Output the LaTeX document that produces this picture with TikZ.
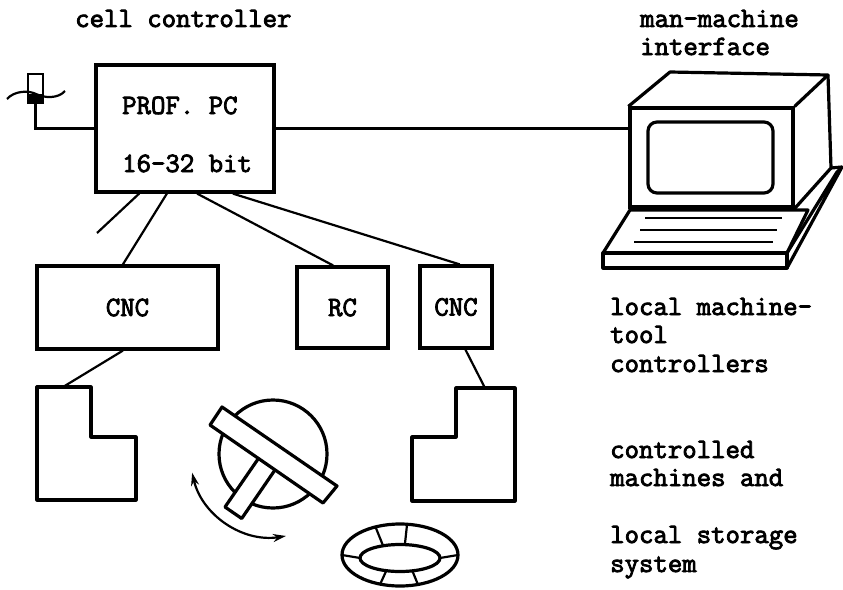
\documentclass[tikz,border=0pt]{standalone}
\usepackage{fontspec}
\usetikzlibrary{calc,arrows.meta}
\newfontfamily\typefont[FakeBold=3]{Latin Modern Mono}
\def\capfont{\typefont\fontsize{28}{28}\selectfont}
\tikzstyle{unit}=[draw, line width=3.2pt, inner sep=0pt, font=\capfont]
\tikzstyle{caption}=[inner sep=0pt, anchor=base west, font=\capfont]
\tikzstyle{link}=[line width=2.2pt]
\tikzstyle{outline}=[line width=3.2pt, line join=round]
\tikzset{turn/.tip={Stealth[length=13pt,width=8pt]}}

\begin{document}
\begin{tikzpicture}[x=1pt, y=-1pt]
  \useasboundingbox (0,0) rectangle (843,589);

  % cell controller with its sensor
  \node[caption] (cellcap) at (75,27) {cell controller};
  \node[unit, minimum width=178pt, minimum height=127pt] (pc) at (185,128.5) {};
  \node[caption] (pc1) at (122,114) {PROF. PC};
  \node[caption] (pc2) at (122,172) {16-32 bit};

  \node[draw, line width=2.2pt, minimum width=15pt, minimum height=29pt, inner sep=0pt] (sensor) at (35.5,88.5) {};
  \fill ($(sensor.south west)+(0,-10)$) rectangle (sensor.south east);
  \draw[link] (7,99) .. controls (14,91) and (28,90) .. (36,94)
              .. controls (44,98) and (58,99) .. (65,91);
  \draw[link] (pc.west) -| (sensor.south);

  % local controllers
  \node[unit, minimum width=181pt, minimum height=83pt] (cnc1) at (127.5,307.5) {CNC};
  \node[unit, minimum width=91pt, minimum height=81pt] (rc) at (342.5,307.5) {RC};
  \node[unit, minimum width=72pt, minimum height=82pt] (cnc2) at (456,307) {CNC};

  \coordinate (loose) at (97,233);
  \path[link] ($(pc.south west)!0.247!(pc.south east)$) edge (loose);
  \path[link] ($(pc.south west)!0.40!(pc.south east)$) edge ($(cnc1.north west)!0.475!(cnc1.north east)$);
  \path[link] ($(pc.south west)!0.567!(pc.south east)$) edge ($(rc.north west)!0.4!(rc.north east)$);
  \path[link] ($(pc.south west)!0.764!(pc.south east)$) edge ($(cnc2.north west)!0.55!(cnc2.north east)$);

  % machines
  \draw[outline] (37,387) -- (91,387) -- (91,437) -- (136,437) -- (136,500) -- (37,500) -- cycle;
  \coordinate (mill1) at (63,387);
  \draw[link] ($(cnc1.south west)!0.475!(cnc1.south east)$) -- (mill1);

  \draw[outline] (515,388) -- (456,388) -- (456,437) -- (412,437) -- (412,501) -- (515,501) -- cycle;
  \coordinate (mill2) at (485,388);
  \draw[link] ($(cnc2.south west)!0.625!(cnc2.south east)$) -- (mill2);

  % robot
  \draw[outline] (273,454) circle[radius=54];
  \filldraw[outline, fill=white] (258.6,458.2) -- (225,507) -- (241.7,518.5) -- (275.2,469.6) -- cycle;
  \filldraw[outline, fill=white] (222,407) -- (210,425) -- (323,503) -- (337,486) -- cycle;
  \draw[link, turn-turn] (273,454) ++(167:83) arc[start angle=167, end angle=81, radius=83];

  % storage ring
  \coordinate (tray) at (400,555);
  \draw[outline] (tray) ellipse[x radius=58, y radius=31];
  \draw[outline] ($(tray)+(0,3)$) ellipse[x radius=40, y radius=13.5];
  \foreach \a in {0,72,110,180,245,277}
    \draw[link] ($(tray)+(\a:58 and 31)$) -- ($(tray)+(0,3)+(\a:40 and 13.5)$);

  % terminal
  \node[unit, minimum width=163pt, minimum height=99pt] (monitor) at (711.5,157.5) {};
  \draw[outline] (monitor.north west) -- (670,72) -- (828,75) -- (monitor.north east);
  \draw[outline] (828,75) -- (831,168) -- (monitor.south east);
  \draw[outline, rounded corners=9pt] (648,122) rectangle (773,193);
  \draw[outline] (630,210) -- (808,210) -- (787,253) -- (603,253) -- cycle;
  \draw[outline] (603,253) rectangle (787,268);
  \draw[outline] (787,253) -- (837,172) -- (842,167) -- (787,268);
  \draw[outline] (831,168) -- (842,167);
  \draw[link] (645,218) -- (782,218);
  \draw[link] (640,230) -- (777,230);
  \draw[link] (634,242) -- (773,242);
  \draw[link] (pc.east) -- (pc.east -| monitor.west);

  % captions
  \node[caption] (mmi1) at (640,27) {man-machine};
  \node[caption] (mmi2) at (640,55) {interface};
  \node[caption] (loc1) at (610,315) {local machine-};
  \node[caption] (loc2) at (610,343) {tool};
  \node[caption] (loc3) at (610,372) {controllers};
  \node[caption] (mac1) at (610,458) {controlled};
  \node[caption] (mac2) at (610,486) {machines and};
  \node[caption] (sto1) at (610,543) {local storage};
  \node[caption] (sto2) at (610,572) {system};
\end{tikzpicture}
\end{document}
